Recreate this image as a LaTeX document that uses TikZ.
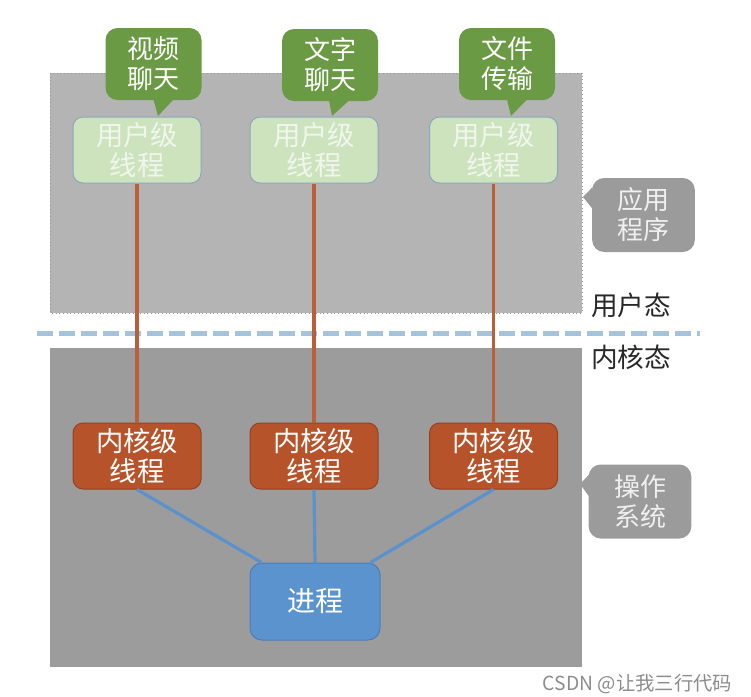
\documentclass[tikz,border=0pt]{standalone}
\usepackage{fontspec}
\setmainfont{Noto Sans CJK SC}
\usetikzlibrary{calc}

\definecolor{upperfill}{RGB}{180,180,180}
\definecolor{upperline}{RGB}{150,150,150}
\definecolor{lowerfill}{RGB}{156,156,156}
\definecolor{splitline}{RGB}{166,195,220}
\definecolor{bubgreen}{RGB}{106,154,68}
\definecolor{bubgray}{RGB}{155,155,155}
\definecolor{userfill}{RGB}{204,227,189}
\definecolor{userline}{RGB}{138,168,190}
\definecolor{usertext}{RGB}{240,246,236}
\definecolor{kernfill}{RGB}{182,83,42}
\definecolor{kernline}{RGB}{150,66,32}
\definecolor{procfill}{RGB}{91,147,206}
\definecolor{procline}{RGB}{74,126,182}
\definecolor{redline}{RGB}{184,96,58}
\definecolor{blueline}{RGB}{91,146,204}
\definecolor{labeltext}{RGB}{40,40,40}

\tikzset{every picture/.style={line width=0.75pt}}

\begin{document}
\begin{tikzpicture}[x=0.75pt,y=0.75pt,yscale=-1,xscale=1,
  thrbox/.style={rounded corners=7.5pt, minimum width=96pt, minimum height=49.5pt, inner sep=0pt, align=center, font=\fontsize{20.5}{22.5}\selectfont},
  userthr/.style={thrbox, draw=userline, fill=userfill, text=usertext},
  kernthr/.style={thrbox, draw=kernline, fill=kernfill, text=white},
  appbub/.style={fill=bubgreen, rounded corners=9pt, minimum width=72pt, minimum height=54pt, inner sep=0pt, align=center, text=white, font=\fontsize{19.5}{22.5}\selectfont},
  sidebub/.style={fill=bubgray, rounded corners=9pt, minimum width=77pt, minimum height=55.5pt, inner sep=0pt, align=center, text=white!94!black, font=\fontsize{19.5}{22.5}\selectfont},
  redlink/.style={draw=redline, line width=2.6pt},
  bluelink/.style={draw=blueline, line width=2.4pt}]
\useasboundingbox (0,0) rectangle (751,697);

%Shape: Rectangle [user space]
\draw [upperline, dotted, fill=upperfill] (50,73) rectangle (582,313) ;
%Shape: Rectangle [kernel space]
\fill [lowerfill] (50,348) rectangle (582,667) ;
%Straight Lines [split]
\draw [splitline, line width=3.75pt, dash pattern=on 12pt off 4.5pt] (37,333) -- (700,333) ;

% Text Node
\node [appbub] (vidbub) at (153.5,64) {视频\\聊天};
\node [appbub] (txtbub) at (330,65) {文字\\聊天};
\node [appbub] (filebub) at (507,64) {文件\\传输};
\coordinate (vidtip) at (158,116);
\coordinate (txttip) at (332,116);
\coordinate (filetip) at (511,116);

% Text Node
\node [userthr] (uthr1) at (137,150) {用户级\\线程};
\node [userthr] (uthr2) at (314,150) {用户级\\线程};
\node [userthr] (uthr3) at (493.5,150) {用户级\\线程};

% Text Node
\node [kernthr] (kthr1) at (137,456) {内核级\\线程};
\node [kernthr] (kthr2) at (314,456) {内核级\\线程};
\node [kernthr] (kthr3) at (493.5,456) {内核级\\线程};

% Text Node
\node [rounded corners=9pt, draw=procline, fill=procfill, text=white, minimum width=97.5pt, minimum height=57.75pt, inner sep=0pt, font=\fontsize{21}{24}\selectfont] (proc) at (315,601.5) {进程};

% Text Node
\node [sidebub] (appsw) at (643.5,215) {应用\\程序};
\node [sidebub] (ossw) at (640,501.5) {操作\\系统};
\coordinate (apptip) at (583,197);
\coordinate (ostip) at (580,484);

% Text Node
\node [text=labeltext, font=\fontsize{20}{24}\selectfont] (ustate) at (631,305) {用户态};
\node [text=labeltext, font=\fontsize{20}{24}\selectfont] (kstate) at (631,357) {内核态};
\node [text=black!45, font=\fontsize{14.5}{17}\selectfont, anchor=east] (mark) at (737,684) {CSDN @让我三行代码};

%Bubble tails
\fill [bubgreen] ($(vidbub.south)+(0,-1)$) -- (vidtip) -- ($(vidbub.south)+(20,-1)$) -- cycle ;
\fill [bubgreen] ($(txtbub.south)+(-1,-1)$) -- (txttip) -- ($(txtbub.south)+(19,-1)$) -- cycle ;
\fill [bubgreen] ($(filebub.south)+(0,-1)$) -- (filetip) -- ($(filebub.south)+(20,-1)$) -- cycle ;
\fill [bubgray] ($(appsw.west)+(1,-28)$) -- (apptip) -- ($(appsw.west)+(1,-6)$) -- cycle ;
\fill [bubgray] ($(ossw.west)+(1,-27)$) -- (ostip) -- ($(ossw.west)+(1,-5)$) -- cycle ;

%Straight Lines [user to kernel]
\foreach \i in {1,2,3}
  \draw [redlink] (uthr\i.south) -- (kthr\i.north) ;

%Straight Lines [kernel to process]
\draw [bluelink] (kthr1.south) -- ($(proc.north west)+(12,0)$) ;
\draw [bluelink] (kthr2.south) -- (proc.north) ;
\draw [bluelink] (kthr3.south) -- ($(proc.north east)+(-10,0)$) ;

\end{tikzpicture}
\end{document}
